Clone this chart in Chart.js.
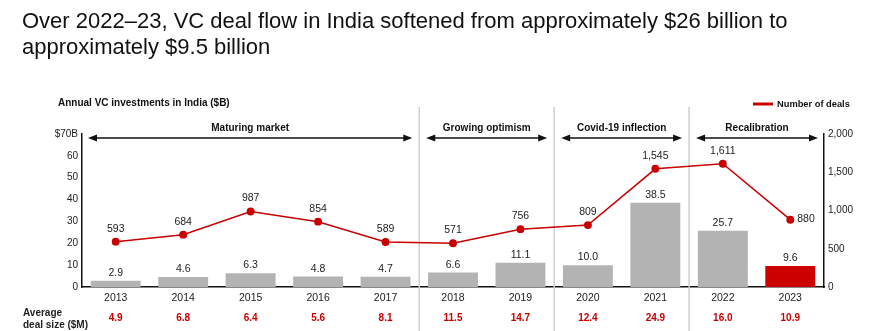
<!DOCTYPE html>
<html>
<head>
<meta charset="utf-8">
<script src="https://cdn.jsdelivr.net/npm/chart.js@4.4.1/dist/chart.umd.min.js"></script>
<style>
  html, body { margin: 0; padding: 0; background: #fff; }
  #wrap { position: relative; width: 873px; height: 331px; }
  #title {
    position: absolute; left: 22px; top: 8px; margin: 0;
    font-family: "Liberation Sans", Arial, sans-serif; font-weight: normal;
    font-size: 22px; line-height: 26px; color: #111;
  }
  canvas { position: absolute; left: 0; top: 0; }
</style>
</head>
<body>
<div id="wrap">
  <canvas id="chart" width="873" height="331"></canvas>
  <h1 id="title">Over 2022–23, VC deal flow in India softened from approximately $26 billion to<br>approximately $9.5 billion</h1>
</div>
<script>
const years = ['2013', '2014', '2015', '2016', '2017', '2018', '2019', '2020', '2021', '2022', '2023'];
const investments = [2.9, 4.6, 6.3, 4.8, 4.7, 6.6, 11.1, 10.0, 38.5, 25.7, 9.6];
const deals = [593, 684, 987, 854, 589, 571, 756, 809, 1545, 1611, 880];
const avgDealSize = ['4.9', '6.8', '6.4', '5.6', '8.1', '11.5', '14.7', '12.4', '24.9', '16.0', '10.9'];
const phases = [
  { label: 'Maturing market', from: 0, to: 4 },
  { label: 'Growing optimism', from: 5, to: 6 },
  { label: 'Covid-19 inflection', from: 7, to: 8 },
  { label: 'Recalibration', from: 9, to: 10 },
];

const RED = '#c80000';
const GREY = '#b3b3b3';
const FONT = '"Liberation Sans", Arial, sans-serif';

function arrow(ctx, x1, x2, y) {
  ctx.beginPath();
  ctx.moveTo(x1 + 6, y);
  ctx.lineTo(x2 - 6, y);
  ctx.stroke();
  ctx.beginPath();
  ctx.moveTo(x1, y); ctx.lineTo(x1 + 9, y - 3.5); ctx.lineTo(x1 + 9, y + 3.5); ctx.closePath();
  ctx.moveTo(x2, y); ctx.lineTo(x2 - 9, y - 3.5); ctx.lineTo(x2 - 9, y + 3.5); ctx.closePath();
  ctx.fill();
}

const annotations = {
  id: 'annotations',
  beforeDatasetsDraw(chart) {
    const { ctx, scales: { x } } = chart;
    ctx.save();
    ctx.strokeStyle = '#cfcfcf';
    ctx.lineWidth = 1.5;
    phases.slice(1).forEach(p => {
      const sx = (x.getPixelForValue(p.from - 1) + x.getPixelForValue(p.from)) / 2;
      ctx.beginPath();
      ctx.moveTo(sx, 107);
      ctx.lineTo(sx, 331);
      ctx.stroke();
    });
    ctx.restore();
  },
  afterDraw(chart) {
    const { ctx, scales: { x, y, y1 } } = chart;
    const half = (x.getPixelForValue(1) - x.getPixelForValue(0)) / 2;
    ctx.save();

    // phase arrows and labels
    ctx.strokeStyle = '#111';
    ctx.fillStyle = '#111';
    ctx.lineWidth = 1.5;
    phases.forEach(p => {
      const left = x.getPixelForValue(p.from) - half + (p.from === 0 ? 6 : 7);
      const right = x.getPixelForValue(p.to) + half - (p.to === years.length - 1 ? 6 : 7);
      arrow(ctx, left, right, 138);
      ctx.font = 'bold 10px ' + FONT;
      ctx.textAlign = 'center';
      ctx.textBaseline = 'middle';
      ctx.fillText(p.label, (left + right) / 2, 128);
    });

    // axis caption
    ctx.font = 'bold 10px ' + FONT;
    ctx.textAlign = 'left';
    ctx.fillStyle = '#111';
    ctx.fillText('Annual VC investments in India ($B)', 58, 103);

    // legend
    ctx.strokeStyle = RED;
    ctx.lineWidth = 3;
    ctx.beginPath();
    ctx.moveTo(753, 104);
    ctx.lineTo(773, 104);
    ctx.stroke();
    ctx.font = 'bold 9.3px ' + FONT;
    ctx.fillText('Number of deals', 777, 104);

    // bar labels
    ctx.font = '10.5px ' + FONT;
    ctx.fillStyle = '#222';
    ctx.textAlign = 'center';
    ctx.textBaseline = 'alphabetic';
    investments.forEach((v, i) => {
      ctx.fillText(v.toFixed(1), x.getPixelForValue(i), y.getPixelForValue(v) - 5);
    });

    // line labels
    deals.forEach((v, i) => {
      const px = x.getPixelForValue(i);
      const py = y1.getPixelForValue(v);
      const txt = v.toLocaleString('en-US');
      if (i === years.length - 1) {
        ctx.textAlign = 'left';
        ctx.textBaseline = 'middle';
        ctx.fillText(txt, px + 7, py - 1);
      } else {
        ctx.textAlign = 'center';
        ctx.textBaseline = 'alphabetic';
        ctx.fillText(txt, px, py - 10);
      }
    });

    // average deal size row
    ctx.font = 'bold 10px ' + FONT;
    ctx.textAlign = 'left';
    ctx.textBaseline = 'middle';
    ctx.fillStyle = '#222';
    ctx.fillText('Average', 23, 313);
    ctx.fillText('deal size ($M)', 23, 325);
    ctx.fillStyle = RED;
    ctx.textAlign = 'center';
    avgDealSize.forEach((v, i) => {
      ctx.fillText(v, x.getPixelForValue(i), 318);
    });
    ctx.restore();
  }
};

new Chart(document.getElementById('chart'), {
  data: {
    labels: years,
    datasets: [
      {
        type: 'line',
        label: 'Number of deals',
        data: deals,
        yAxisID: 'y1',
        borderColor: RED,
        backgroundColor: RED,
        borderWidth: 1.5,
        pointRadius: 3.2,
        pointHoverRadius: 3.2,
        tension: 0,
        order: 0,
      },
      {
        type: 'bar',
        label: 'Annual VC investments',
        data: investments,
        yAxisID: 'y',
        backgroundColor: years.map((_, i) => i === years.length - 1 ? '#cc0000' : GREY),
        barPercentage: 0.74,
        categoryPercentage: 1,
        order: 1,
      },
    ],
  },
  options: {
    responsive: false,
    animation: false,
    layout: { padding: { top: 134, left: 0, right: 0, bottom: 0 } },
    plugins: {
      legend: { display: false },
      tooltip: { enabled: false },
      title: { display: false },
    },
    scales: {
      x: {
        offset: true,
        grid: { display: false, drawTicks: false },
        border: { color: '#111', width: 1.5 },
        ticks: { color: '#222', font: { family: FONT, size: 10.5 }, padding: 5, maxRotation: 0 },
        afterFit: s => { s.height = 44; },
      },
      y: {
        position: 'left',
        min: 0,
        max: 70,
        grid: { display: false, drawTicks: false },
        border: { color: '#111', width: 1.5 },
        ticks: {
          stepSize: 10,
          color: '#222',
          font: { family: FONT, size: 10 },
          padding: 4,
          callback: v => v === 70 ? '$70B' : v,
        },
        afterFit: s => { s.width = 82; },
      },
      y1: {
        position: 'right',
        min: 0,
        max: 2000,
        grid: { display: false, drawTicks: false },
        border: { color: '#111', width: 1.5 },
        ticks: {
          stepSize: 500,
          color: '#222',
          font: { family: FONT, size: 10 },
          padding: 4,
          callback: v => v.toLocaleString('en-US'),
        },
        afterFit: s => { s.width = 49; },
      },
    },
  },
  plugins: [annotations],
});
</script>
</body>
</html>
